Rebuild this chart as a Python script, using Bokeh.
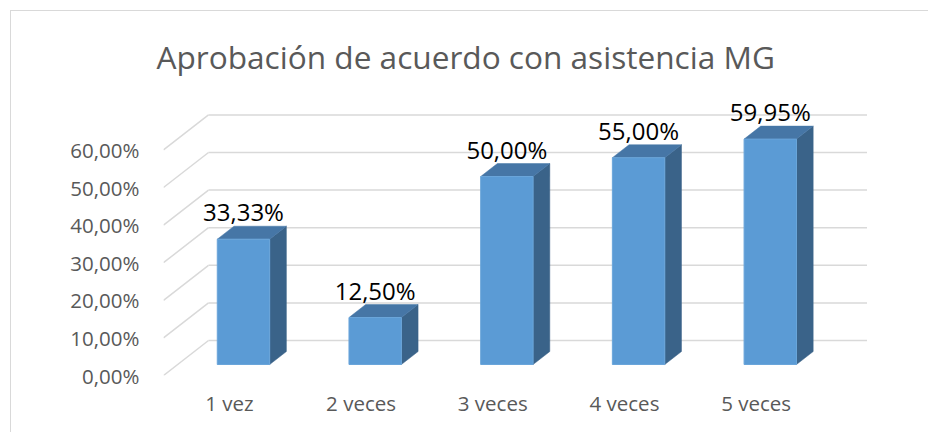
import numpy as np
from bokeh.plotting import figure
from bokeh.models import ColumnDataSource, Range1d, FixedTicker
from bokeh.core.properties import value
from bokeh.embed import file_html
from bokeh.resources import INLINE

# ---- data ----
title_text = "Aprobación de acuerdo con asistencia MG"
categories = ["1 vez", "2 veces", "3 veces", "4 veces", "5 veces"]
values = [33.33, 12.50, 50.00, 55.00, 59.95]
value_labels = ["33,33%", "12,50%", "50,00%", "55,00%", "59,95%"]
y_ticks = [0, 10, 20, 30, 40, 50, 60]
y_tick_labels = ["0,00%", "10,00%", "20,00%", "30,00%", "40,00%", "50,00%", "60,00%"]

# ---- geometry (pixels -> data units) ----
PX_X = 131.7          # px per category slot
PX_Y = 3.76           # px per percent
FRAME_W, FRAME_H = 737, 280
DX = 45 / PX_X        # wall depth (x)
DY = 35 / PX_Y        # wall depth (y)
D0, DB = 0.314, 0.371 # bar front depth, bar depth (fractions)
BAR_W = 0.398

FONT = "Open Sans"
GRID = "#D9D9D9"
TXT = "#595959"

p = figure(width=918, height=422,
           x_range=Range1d(0.5, 0.5 + FRAME_W / PX_X),
           y_range=Range1d(0, FRAME_H / PX_Y),
           min_border_left=152, min_border_right=29,
           min_border_top=84, min_border_bottom=58,
           output_backend="svg", toolbar_location=None,
           styles={"margin-left": "10px", "margin-top": "10px",
                   "border-left": "1px solid #D9D9D9",
                   "border-top": "1px solid #D9D9D9"})
p.outline_line_color = None
p.xgrid.visible = False
p.ygrid.visible = False
p.background_fill_color = "white"
p.border_fill_color = "white"

# title
p.title.text = title_text
p.title.align = "left"
p.title.offset = -7
p.title.standoff = 36
p.title.text_font = FONT
p.title.text_font_size = "31.6px"
p.title.text_font_style = "normal"
p.title.text_color = TXT

# axes
n = len(categories)
xpos = list(range(1, n + 1))
p.xaxis.ticker = FixedTicker(ticks=xpos)
p.xaxis.major_label_overrides = {i: c for i, c in zip(xpos, categories)}
p.yaxis.ticker = FixedTicker(ticks=y_ticks)
p.yaxis.major_label_overrides = {t: l for t, l in zip(y_ticks, y_tick_labels)}
for ax in (p.xaxis, p.yaxis):
    ax.axis_line_color = None
    ax.major_tick_line_color = None
    ax.minor_tick_line_color = None
    ax.major_label_text_font = FONT
    ax.major_label_text_font_size = "20.5px"
    ax.major_label_text_color = TXT
p.xaxis.major_label_standoff = 7
p.yaxis.major_label_standoff = 18

# gridlines: left wall and back wall
yt = np.array(y_ticks, dtype=float)
x0 = 0.5
x_end = n + 0.5
p.segment(x0=[x0] * len(yt), y0=yt, x1=[x0 + DX] * len(yt), y1=yt + DY,
          line_color=GRID, line_width=1.5)
p.segment(x0=[x0 + DX] * len(yt), y0=yt + DY, x1=[x_end + DX] * len(yt), y1=yt + DY,
          line_color=GRID, line_width=1.5)

# bars
c = np.array(xpos, dtype=float)
v = np.array(values, dtype=float)
xl = c - BAR_W / 2 + D0 * DX
xr = c + BAR_W / 2 + D0 * DX
yb = np.full(n, D0 * DY)
yt_bar = v + D0 * DY
ddx, ddy = DB * DX, DB * DY

side_xs = [[a, a + ddx, a + ddx, a] for a in xr]
side_ys = [[b, b + ddy, t + ddy, t] for b, t in zip(yb, yt_bar)]
top_xs = [[l, r, r + ddx, l + ddx] for l, r in zip(xl, xr)]
top_ys = [[t, t, t + ddy, t + ddy] for t in yt_bar]

p.patches(side_xs, side_ys, fill_color="#3A6389", line_color="#3A6389", line_width=0.5)
p.patches(top_xs, top_ys, fill_color="#4676A6", line_color="#4676A6", line_width=0.5)
p.quad(left=xl, right=xr, bottom=yb, top=yt_bar,
       fill_color="#5B9BD5", line_color="#6AA5DA", line_width=1)

# data labels
lab_src = ColumnDataSource(dict(x=c + D0 * DX, y=v + (D0 + DB) * DY, t=value_labels))
p.text(x="x", y="y", text="t", source=lab_src, text_align="center",
       text_baseline="bottom", y_offset=2,
       text_font=value(FONT), text_font_size="24px", text_color="#000000")

open("out.html", "w").write(file_html(p, INLINE))
